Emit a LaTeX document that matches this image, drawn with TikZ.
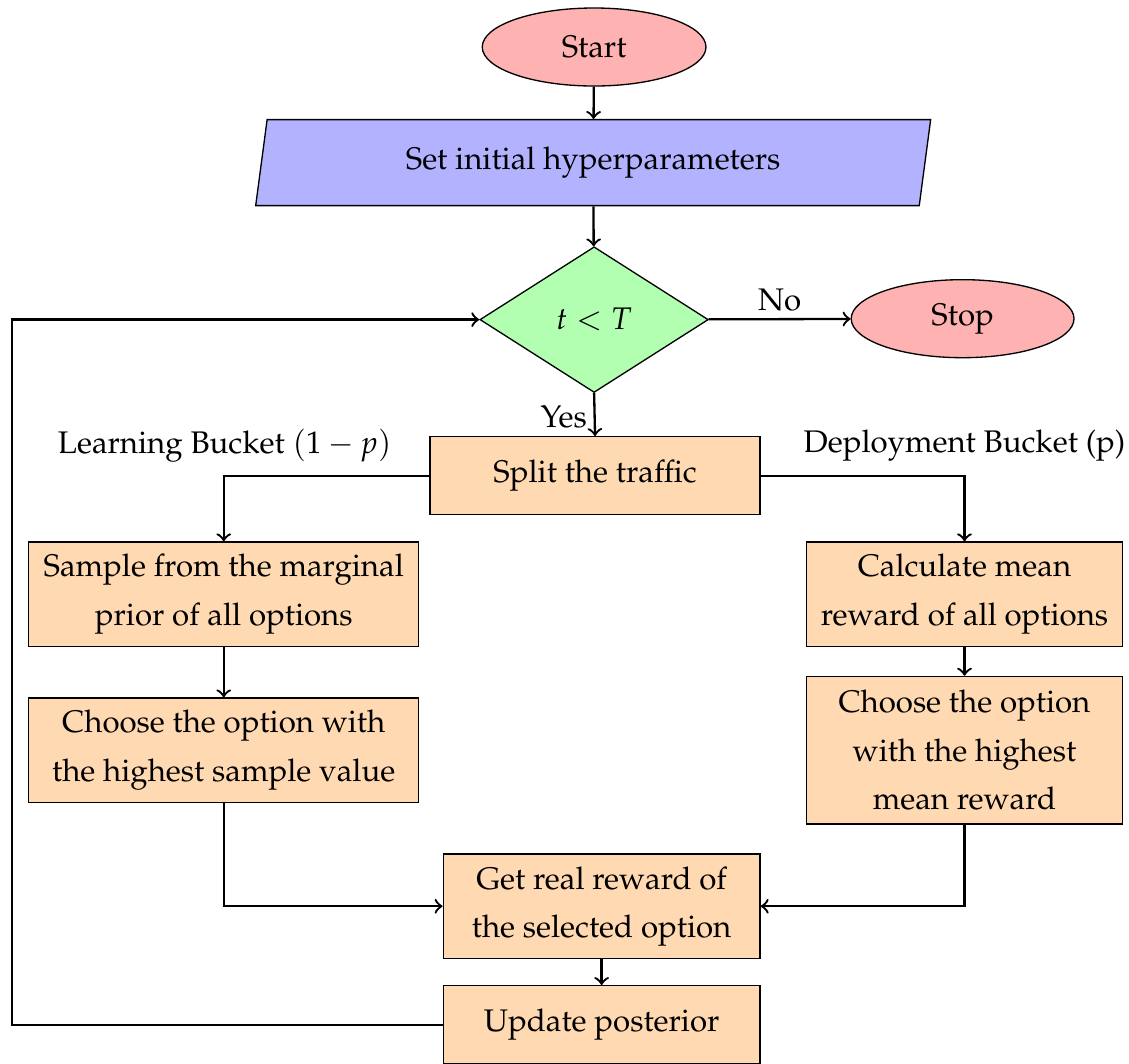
\documentclass[tikz,border=0pt]{standalone}
\usepackage[T1]{fontenc}
\usepackage{mathpazo}
\usetikzlibrary{shapes.geometric,positioning,calc}
\tikzset{
  startstop/.style={ellipse, draw=black, fill=red!30, minimum width=2.38cm,
    minimum height=0.83cm, inner sep=0pt},
  io/.style={trapezium, trapezium left angle=70, trapezium right angle=110,
    trapezium stretches body, draw=black, fill=blue!30, minimum width=7.18cm,
    minimum height=0.915cm, inner sep=0pt},
  decision/.style={diamond, draw=black, fill=green!30, minimum width=2.43cm,
    minimum height=1.55cm, inner sep=0pt, aspect=1.56},
  process/.style={rectangle, draw=black, fill=orange!30, align=center,
    minimum height=0.83cm, inner sep=2pt},
  flow/.style={->, line width=0.7pt},
  branch/.style={inner sep=0pt}
}
\begin{document}
\begin{tikzpicture}[font=\fontsize{9.45}{14.6}\selectfont]
  \useasboundingbox (0,0) rectangle (12.01,-11.31);
  % main column
  \node[startstop] (start) at (6.32,-0.50) {Start};
  \node[io] (init) at (6.31,-1.73) {Set initial hyperparameters};
  \node[decision] (cond) at (6.32,-3.40) {$t < T$};
  \node[startstop, minimum width=2.37cm] (stop) at (10.24,-3.39) {Stop};
  \node[process, minimum width=3.51cm] (split) at (6.33,-5.06) {Split the traffic};
  % learning bucket
  \node[branch] (learnlbl) at (2.39,-4.74) {Learning Bucket $(1-p)$};
  \node[process, minimum width=4.15cm, minimum height=1.11cm] (sample) at (2.38,-6.32)
    {Sample from the marginal\\prior of all options};
  \node[process, minimum width=4.15cm, minimum height=1.11cm] (chooseL) at (2.38,-7.98)
    {Choose the option with\\the highest sample value};
  % deployment bucket
  \node[branch] (deploylbl) at (10.26,-4.74) {Deployment Bucket (p)};
  \node[process, minimum width=3.36cm, minimum height=1.11cm] (mean) at (10.26,-6.32)
    {Calculate mean\\reward of all options};
  \node[process, minimum width=3.36cm, minimum height=1.57cm] (chooseR) at (10.26,-7.98)
    {Choose the option\\with the highest\\mean reward};
  % reward and update
  \node[process, minimum width=3.37cm, minimum height=1.11cm] (reward) at (6.40,-9.64)
    {Get real reward of\\the selected option};
  \node[process, minimum width=3.37cm] (update) at (6.40,-10.90) {Update posterior};
  \coordinate (loop) at (0.13,-10.90);

  \draw[flow] (start) -- (init);
  \draw[flow] (init) -- (cond);
  \draw[flow] (cond) -- node[above, inner sep=2pt] (nolbl) {No} (stop);
  \draw[flow] (cond.south) -- node[left, pos=0.55, inner sep=2pt] (yeslbl) {Yes} (split.north);
  \draw[flow] (split.west) -| (sample.north);
  \draw[flow] (split.east) -| (mean.north);
  \draw[flow] (sample) -- (chooseL);
  \draw[flow] (mean) -- (chooseR);
  \draw[flow] (chooseL.south) |- (reward.west);
  \draw[flow] (chooseR.south) |- (reward.east);
  \draw[flow] (reward) -- (update);
  \draw[flow] (update.west) -- (loop) |- (cond.west);
\end{tikzpicture}
\end{document}
